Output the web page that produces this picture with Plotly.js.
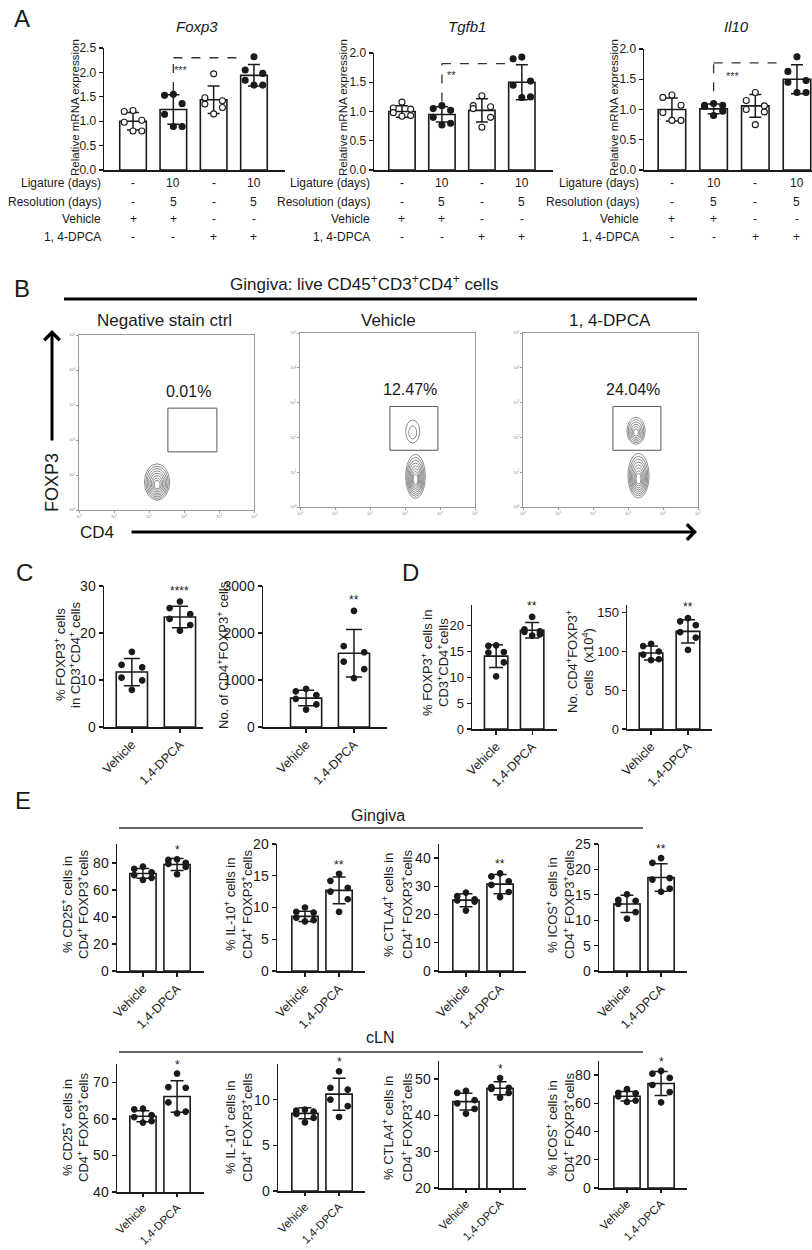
<!DOCTYPE html>
<html><head><meta charset="utf-8">
<script src="https://cdn.plot.ly/plotly-3.0.1.min.js"></script>
<style>html,body{margin:0;padding:0;background:#fff}#chart{width:812px;height:1250px}</style>
</head><body><div id="chart"></div>
<script>
// ================= DATA =================
// Panel A – relative mRNA expression (4 groups)
const aRowLabels = ['Ligature (days)', 'Resolution (days)', 'Vehicle', '1, 4-DPCA'];
const ligatureDays = ['-', '10', '-', '10'];
const resolutionDays = ['-', '5', '-', '5'];
const vehicleGiven = ['+', '+', '-', '-'];
const dpcaGiven = ['-', '-', '+', '+'];
const aFilled = [false, true, false, true];
const aGeneTitles = ['Foxp3', 'Tgfb1', 'Il10'];
const aSigLabels = ['***', '**', '***'];

const foxp3Mean = [1.00, 1.24, 1.44, 1.94];
const foxp3Sd = [0.18, 0.30, 0.28, 0.22];
const foxp3Points = [[1.22, 1.20, 1.02, 0.98, 0.80, 0.80], [1.55, 1.53, 1.36, 1.14, 0.89, 0.89], [1.97, 1.48, 1.42, 1.35, 1.28, 1.15], [2.32, 2.05, 1.98, 1.84, 1.74, 1.74]];
const tgfb1Mean = [1.00, 0.95, 1.02, 1.50];
const tgfb1Sd = [0.10, 0.13, 0.20, 0.30];
const tgfb1Points = [[1.16, 1.06, 1.04, 0.98, 0.93, 0.92], [1.10, 1.05, 1.02, 0.90, 0.80, 0.77], [1.27, 1.10, 1.08, 1.05, 0.90, 0.73], [1.93, 1.90, 1.52, 1.45, 1.25, 1.24]];
const il10Mean = [1.00, 1.01, 1.06, 1.50];
const il10Sd = [0.19, 0.08, 0.19, 0.24];
const il10Points = [[1.24, 1.20, 1.07, 0.95, 0.82, 0.82], [1.10, 1.07, 1.07, 1.05, 0.97, 0.90], [1.28, 1.15, 1.06, 1.00, 0.96, 0.75], [1.87, 1.63, 1.48, 1.45, 1.28, 1.28]];
// dashed comparison brackets (value units): start of vertical, top, end category
const aBracketStart = [1.62, 1.17, 1.30];
const aBracketTop = [2.30, 1.82, 1.77];
const aBracketEnd = [2.57, 2.63, 2.59];
const aStarX = [1.20, 1.25, 1.46];
const aStarY = [2.10, 1.66, 1.58];

// Panel B – flow cytometry (log decades)
const flowTitles = ['Negative stain ctrl', 'Vehicle', '1, 4-DPCA'];
const flowPercent = ['0.01%', '12.47%', '24.04%'];
const gateCD4Lo = [2.54, 2.57, 2.57];
const gateCD4Hi = [3.94, 3.94, 3.94];
const gateFoxLo = [1.66, 1.63, 1.63];
const gateFoxHi = [2.91, 2.89, 2.89];
const popSample = [0, 1, 1, 2, 2];
const popCD4 = [2.23, 3.30, 3.22, 3.30, 3.23];
const popFOXP3 = [0.80, 0.88, 2.17, 0.90, 2.19];
const popSpreadCD4 = [0.36, 0.28, 0.20, 0.30, 0.26];
const popSpreadFOXP3 = [0.52, 0.63, 0.33, 0.64, 0.39];
const popLevels = [8, 8, 2, 8, 6];

// Panels C–E – two groups
const groups = ['Vehicle', '1,4-DPCA'];
const cPctMean = [11.7, 23.4];
const cPctSd = [2.9, 2.3];
const cPctPoints = [[16.0, 13.2, 12.7, 10.5, 9.9, 7.9], [26.7, 25.3, 24.0, 23.0, 21.7, 20.5]];
const cNumMean = [615, 1570];
const cNumSd = [165, 505];
const cNumPoints = [[810, 760, 680, 600, 480, 370], [2470, 1720, 1590, 1390, 1230, 1040]];
const dPctMean = [14.1, 19.1];
const dPctSd = [2.2, 1.5];
const dPctPoints = [[16.2, 16.1, 14.9, 14.8, 12.9, 10.2], [21.7, 19.3, 18.9, 18.8, 18.3, 18.1]];
const dNumMean = [98, 126];
const dNumSd = [9, 15];
const dNumPoints = [[110, 107, 100, 96, 90, 89], [143, 139, 134, 125, 118, 102]];
const cdSig = ['****', '**', '**', '**'];

const gCD25Mean = [72.2, 78.8], gCD25Sd = [3.6, 4.5];
const gCD25Points = [[77.3, 75.6, 73.0, 71.0, 69.0, 67.5], [82.7, 82.2, 80.0, 79.3, 77.0, 71.6]];
const gIL10Mean = [8.6, 12.7], gIL10Sd = [0.8, 2.1];
const gIL10Points = [[10.0, 9.3, 9.2, 8.4, 8.0, 7.8], [15.3, 14.2, 13.1, 12.5, 11.3, 9.3]];
const gCTLA4Mean = [25.1, 30.8], gCTLA4Sd = [2.3, 3.4];
const gCTLA4Points = [[27.8, 26.5, 25.4, 25.0, 24.6, 21.4], [34.6, 33.5, 31.8, 30.5, 28.0, 26.2]];
const gICOSMean = [13.2, 18.4], gICOSSd = [1.7, 2.7];
const gICOSPoints = [[15.1, 14.0, 13.8, 13.2, 11.6, 10.3], [22.2, 21.3, 18.3, 18.0, 16.2, 15.6]];
const gSig = ['*', '**', '**', '**'];

const lCD25Mean = [60.7, 66.1], lCD25Sd = [1.5, 4.3];
const lCD25Points = [[62.8, 62.6, 61.0, 60.5, 59.4, 59.0], [72.4, 68.7, 68.5, 64.5, 62.0, 61.5]];
const lIL10Mean = [8.5, 10.6], lIL10Sd = [0.6, 1.75];
const lIL10Points = [[8.9, 8.8, 8.7, 8.4, 8.0, 7.5], [13.1, 11.3, 11.1, 10.0, 9.3, 8.1]];
const lCTLA4Mean = [43.8, 47.5], lCTLA4Sd = [2.3, 1.8];
const lCTLA4Points = [[46.8, 46.2, 44.2, 43.3, 41.8, 40.5], [50.3, 47.8, 47.6, 47.3, 46.2, 44.9]];
const lICOSMean = [65.0, 74.1], lICOSSd = [3.3, 8.5];
const lICOSPoints = [[70, 67.5, 67, 65, 62, 61], [83, 81, 78, 73, 68, 60.7]];
const lSig = ['*', '*', '*', '*'];

// ================= STYLE / LAYOUT HELPERS =================
const FONT = 'Liberation Sans, Arial, Helvetica, sans-serif';
const INK = '#1a1a1a';
const W = 812, H = 1250;
const JIT = [0, -0.33, 0.33, -0.33, 0.33, 0];
const traces = [];
const layout = {
  width: W, height: H, margin: {l: 0, r: 0, t: 0, b: 0},
  paper_bgcolor: '#fff', plot_bgcolor: 'rgba(0,0,0,0)', showlegend: false,
  font: {family: FONT, color: INK}, annotations: [], shapes: [], hovermode: false
};
let nAx = 0;
function makeAxes(box, xr, yr, xo, yo) {
  nAx++;
  const s = nAx === 1 ? '' : String(nAx);
  layout['xaxis' + s] = Object.assign({domain: [box[0] / W, box[1] / W], range: xr, anchor: 'y' + s, showgrid: false, zeroline: false, fixedrange: true}, xo);
  layout['yaxis' + s] = Object.assign({domain: [1 - box[3] / H, 1 - box[2] / H], range: yr, anchor: 'x' + s, showgrid: false, zeroline: false, fixedrange: true}, yo);
  return {x: 'x' + s, y: 'y' + s};
}
function yStyle(dtick, size, fmt) {
  return {showline: true, linecolor: INK, linewidth: 1.5, ticks: 'outside', ticklen: 4, tickwidth: 1.3, tickcolor: INK,
    tick0: 0, dtick: dtick, tickformat: fmt || '', tickfont: {size: size, color: INK, family: FONT}};
}
function xCatStyle(labels, size, tlen) {
  return {showline: true, linecolor: INK, linewidth: 1.5, ticks: 'outside', ticklen: tlen || 4, tickwidth: 1.3, tickcolor: INK,
    tickmode: 'array', tickvals: labels.map((_, i) => i), ticktext: labels, tickangle: -45,
    tickfont: {size: size || 12.5, color: INK, family: FONT}};
}
function xPlainStyle() {
  return {showline: true, linecolor: INK, linewidth: 1.5, ticks: '', showticklabels: false};
}
function drawBars(ax, means, sds, pts, filled, bw, capW, msize) {
  traces.push({type: 'bar', x: means.map((_, i) => i), y: means, width: bw, xaxis: ax.x, yaxis: ax.y,
    marker: {color: '#fff', line: {color: INK, width: 1.6}},
    error_y: {type: 'data', array: sds, visible: true, color: INK, thickness: 1.5, width: capW}});
  pts.forEach((grp, i) => {
    traces.push({type: 'scatter', mode: 'markers', xaxis: ax.x, yaxis: ax.y, cliponaxis: false,
      x: grp.map((_, k) => i + JIT[k % JIT.length] * bw), y: grp,
      marker: {size: msize, color: filled[i] ? INK : '#fff', line: {color: INK, width: 1.1}}});
  });
}
function txt(text, x, y, size, extra) {
  layout.annotations.push(Object.assign({xref: 'paper', yref: 'paper', x: x / W, y: 1 - y / H, text: text,
    showarrow: false, xanchor: 'center', yanchor: 'middle', font: {size: size, color: INK, family: FONT}}, extra || {}));
}
function vtxt(text, x, y, size) { txt(text, x, y, size, {textangle: -90}); }
function hline(x0, x1, y, w, color) {
  layout.shapes.push({type: 'line', xref: 'paper', yref: 'paper', x0: x0 / W, x1: x1 / W, y0: 1 - y / H, y1: 1 - y / H, line: {color: color, width: w}});
}
function sigStar(ax, text, pts, shift) {
  layout.annotations.push({xref: ax.x, yref: ax.y, x: 1, y: Math.max(...pts[1]), text: text, showarrow: false,
    xanchor: 'center', yanchor: 'bottom', yshift: shift, font: {size: 12, color: INK, family: FONT}});
}

// ================= PANEL A =================
txt('A', 22, 19, 24);
const aGeom = [
  {box: [104, 285, 48, 170], xr: [-0.72, 3.77], yr: [0, 2.5], yt: 75, tx: 197, lr: 103},
  {box: [374, 553, 53, 170], xr: [-0.70, 3.78], yr: [0, 2.0], yt: 343, tx: 467, lr: 372},
  {box: [644, 812, 49, 170], xr: [-0.67, 3.36], yr: [0, 2.0], yt: 614, tx: 736, lr: 641}
];
const aMeans = [foxp3Mean, tgfb1Mean, il10Mean];
const aSds = [foxp3Sd, tgfb1Sd, il10Sd];
const aPts = [foxp3Points, tgfb1Points, il10Points];
const aRows = [ligatureDays, resolutionDays, vehicleGiven, dpcaGiven];
const aRowY = [183, 202, 219, 237];
aGeom.forEach((g, c) => {
  const ax = makeAxes(g.box, g.xr, g.yr, xPlainStyle(), yStyle(0.5, 12, '.1f'));
  drawBars(ax, aMeans[c], aSds[c], aPts[c], aFilled, 0.66, 6, 6);
  txt('<i>' + aGeneTitles[c] + '</i>', g.tx, 27, 15);
  vtxt('Relative mRNA expression', g.yt, 108, 11.5);
  const dash = {color: '#333', width: 1.3, dash: 'dash'};
  layout.shapes.push({type: 'line', xref: ax.x, yref: ax.y, x0: 1, x1: 1, y0: aBracketStart[c], y1: aBracketTop[c], line: dash});
  layout.shapes.push({type: 'line', xref: ax.x, yref: ax.y, x0: 1, x1: aBracketEnd[c], y0: aBracketTop[c], y1: aBracketTop[c], line: dash});
  layout.annotations.push({xref: ax.x, yref: ax.y, x: aStarX[c], y: aStarY[c], text: aSigLabels[c], showarrow: false,
    xanchor: 'center', yanchor: 'middle', yshift: -2, font: {size: 11, color: '#333', family: FONT}});
  aRowLabels.forEach((lab, r) => {
    txt(lab, g.lr, aRowY[r], 12, {xanchor: 'right'});
    aRows[r].forEach((v, i) => {
      layout.annotations.push({xref: ax.x, yref: 'paper', x: i, y: 1 - aRowY[r] / H, text: v, showarrow: false,
        xanchor: 'center', yanchor: 'middle', font: {size: 12, color: INK, family: FONT}});
    });
  });
});

// ================= PANEL B =================
txt('B', 22, 289, 24);
txt('Gingiva: live CD45<sup>+</sup>CD3<sup>+</sup>CD4<sup>+</sup> cells', 364, 283, 17);
hline(64, 697, 299, 3, '#000');
const bBoxes = [[79, 254, 335, 510], [300, 475, 333, 507], [523, 698, 333, 507]];
const bTitleX = [164, 388, 610];
const decades = [0, 1, 2, 3, 4, 5];
const flowAxis = () => ({showline: true, mirror: true, linecolor: '#9a9a9a', linewidth: 1, ticks: 'outside', ticklen: 2,
  tickcolor: '#9a9a9a', tickmode: 'array', tickvals: decades, ticktext: decades.map(d => '10<sup>' + d + '</sup>'),
  tickfont: {size: 4, color: '#888'}});
const bAxes = bBoxes.map((b, s) => {
  const ax = makeAxes(b, [0, 5], [0, 5], flowAxis(), flowAxis());
  txt(flowTitles[s], bTitleX[s], 320, 17);
  layout.shapes.push({type: 'rect', xref: ax.x, yref: ax.y, x0: gateCD4Lo[s], x1: gateCD4Hi[s], y0: gateFoxLo[s], y1: gateFoxHi[s],
    line: {color: '#555', width: 1}});
  layout.annotations.push({xref: ax.x, yref: ax.y, x: (gateCD4Lo[s] + gateCD4Hi[s]) / 2 - 0.1, y: gateFoxHi[s] + 0.48,
    text: flowPercent[s], showarrow: false, xanchor: 'center', yanchor: 'middle', font: {size: 16, color: INK, family: FONT}});
  traces.push({type: 'scatter', mode: 'markers', x: [], y: [], xaxis: ax.x, yaxis: ax.y});
  return ax;
});
popSample.forEach((s, p) => {
  const ax = bAxes[s];
  const n = popLevels[p];
  for (let k = 0; k < n; k++) {
    const f = 1 - 0.88 * k / Math.max(n, 2);
    const cy = popFOXP3[p] - (1 - f) * popSpreadFOXP3[p] * 0.18;
    layout.shapes.push({type: 'circle', xref: ax.x, yref: ax.y,
      x0: popCD4[p] - popSpreadCD4[p] * f, x1: popCD4[p] + popSpreadCD4[p] * f,
      y0: cy - popSpreadFOXP3[p] * f, y1: cy + popSpreadFOXP3[p] * f,
      line: {color: '#5a5a5a', width: 0.7}});
  }
});
vtxt('FOXP3', 52, 483, 18);
txt('CD4', 97, 532, 17);
layout.annotations.push({xref: 'paper', yref: 'paper', x: 52 / W, y: 1 - 330 / H, ax: 0, ay: 112, axref: 'pixel', ayref: 'pixel',
  text: '', showarrow: true, arrowhead: 4, arrowsize: 1, arrowwidth: 3, arrowcolor: '#000'});
layout.annotations.push({xref: 'paper', yref: 'paper', x: 697 / W, y: 1 - 532 / H, ax: -567, ay: 0, axref: 'pixel', ayref: 'pixel',
  text: '', showarrow: true, arrowhead: 4, arrowsize: 1, arrowwidth: 3, arrowcolor: '#000'});

// ================= PANELS C & D =================
txt('C', 24, 572, 24);
txt('D', 410, 572, 24);
const cdDefs = [
  {box: [104, 203, 586, 727], xr: [-0.58, 1.48], yr: [0, 30], dt: 10, bw: 0.65, m: cPctMean, s: cPctSd, p: cPctPoints,
    lines: ['% FOXP3<sup>+</sup> cells', 'in CD3<sup>+</sup>CD4<sup>+</sup> cells'], lx: [60, 75], ly: 655},
  {box: [263, 387, 586, 727], xr: [-0.90, 1.69], yr: [0, 3000], dt: 1000, bw: 0.65, m: cNumMean, s: cNumSd, p: cNumPoints,
    lines: ['No. of CD4<sup>+</sup>FOXP3<sup>+</sup> cells'], lx: [223], ly: 655},
  {box: [472, 557, 605, 729], xr: [-0.67, 1.69], yr: [0, 24], dt: 5, bw: 0.65, m: dPctMean, s: dPctSd, p: dPctPoints,
    lines: ['% FOXP3<sup>+</sup> cells in', 'CD3<sup>+</sup>CD4<sup>+</sup>cells'], lx: [427, 443], ly: 663},
  {box: [627, 712, 605, 729], xr: [-0.65, 1.65], yr: [0, 160], dt: 50, bw: 0.64, m: dNumMean, s: dNumSd, p: dNumPoints,
    lines: ['No. CD4<sup>+</sup>FOXP3<sup>+</sup>', 'cells  (x10<sup>4</sup>)'], lx: [572, 588], ly: 662}
];
cdDefs.forEach((d, i) => {
  const ax = makeAxes(d.box, d.xr, d.yr, xCatStyle(groups), yStyle(d.dt, i < 2 ? 14 : 13));
  drawBars(ax, d.m, d.s, d.p, [true, true], d.bw, i < 2 ? 8 : 7, 5.6);
  sigStar(ax, cdSig[i], d.p, 2);
  d.lines.forEach((l, k) => vtxt(l, d.lx[k], d.ly, 13));
});

// ================= PANEL E =================
txt('E', 23, 800, 24);
txt('Gingiva', 378, 815, 16);
hline(119, 643, 828, 1.5, '#333');
txt('cLN', 380, 1037, 16);
hline(119, 643, 1052, 1.5, '#333');
const eLabels = [
  ['% CD25<sup>+</sup> cells in', 'CD4<sup>+</sup> FOXP3<sup>+</sup>cells'],
  ['% IL-10<sup>+</sup> cells in', 'CD4<sup>+</sup> FOXP3<sup>+</sup>cells'],
  ['% CTLA4<sup>+</sup> cells in', 'CD4<sup>+</sup> FOXP3<sup>+</sup>cells'],
  ['% ICOS<sup>+</sup> cells in', 'CD4<sup>+</sup> FOXP3<sup>+</sup>cells']
];
const eLabelX = [[67, 83], [230, 247], [388, 407], [552, 569]];
const eDefs = [
  {box: [117, 204, 844, 971], xr: [-0.76, 1.79], yr: [0, 94], dt: 20, m: gCD25Mean, s: gCD25Sd, p: gCD25Points, sig: gSig[0], col: 0, ly: 905},
  {box: [277, 365, 844, 971], xr: [-0.82, 1.76], yr: [0, 20], dt: 5, m: gIL10Mean, s: gIL10Sd, p: gIL10Points, sig: gSig[1], col: 1, ly: 905},
  {box: [439, 526, 844, 971], xr: [-0.79, 1.76], yr: [0, 45], dt: 10, m: gCTLA4Mean, s: gCTLA4Sd, p: gCTLA4Points, sig: gSig[2], col: 2, ly: 905},
  {box: [599, 687, 844, 971], xr: [-0.82, 1.76], yr: [0, 25], dt: 5, m: gICOSMean, s: gICOSSd, p: gICOSPoints, sig: gSig[3], col: 3, ly: 905},
  {box: [117, 204, 1064, 1192], xr: [-0.76, 1.79], yr: [40, 75], dt: 10, m: lCD25Mean, s: lCD25Sd, p: lCD25Points, sig: lSig[0], col: 0, ly: 1128},
  {box: [278, 365, 1064, 1191], xr: [-0.79, 1.76], yr: [0, 13.9], dt: 5, m: lIL10Mean, s: lIL10Sd, p: lIL10Points, sig: lSig[1], col: 1, ly: 1128},
  {box: [439, 526, 1061, 1188], xr: [-0.79, 1.76], yr: [20, 55], dt: 10, m: lCTLA4Mean, s: lCTLA4Sd, p: lCTLA4Points, sig: lSig[2], col: 2, ly: 1128},
  {box: [599, 687, 1061, 1188], xr: [-0.82, 1.76], yr: [0, 90], dt: 20, m: lICOSMean, s: lICOSSd, p: lICOSPoints, sig: lSig[3], col: 3, ly: 1128}
];
eDefs.forEach((d, i) => {
  const lower = i >= 4;
  const ax = makeAxes(d.box, d.xr, d.yr, xCatStyle(groups, lower ? 11.5 : 12.5, lower ? 3 : 4), yStyle(d.dt, 14));
  drawBars(ax, d.m, d.s, d.p, [true, true], 0.77, 6.5, 5.6);
  sigStar(ax, d.sig, d.p, 0);
  eLabels[d.col].forEach((l, k) => vtxt(l, eLabelX[d.col][k], d.ly, 13));
});

Plotly.newPlot('chart', traces, layout, {staticPlot: true, displayModeBar: false});
</script></body></html>
